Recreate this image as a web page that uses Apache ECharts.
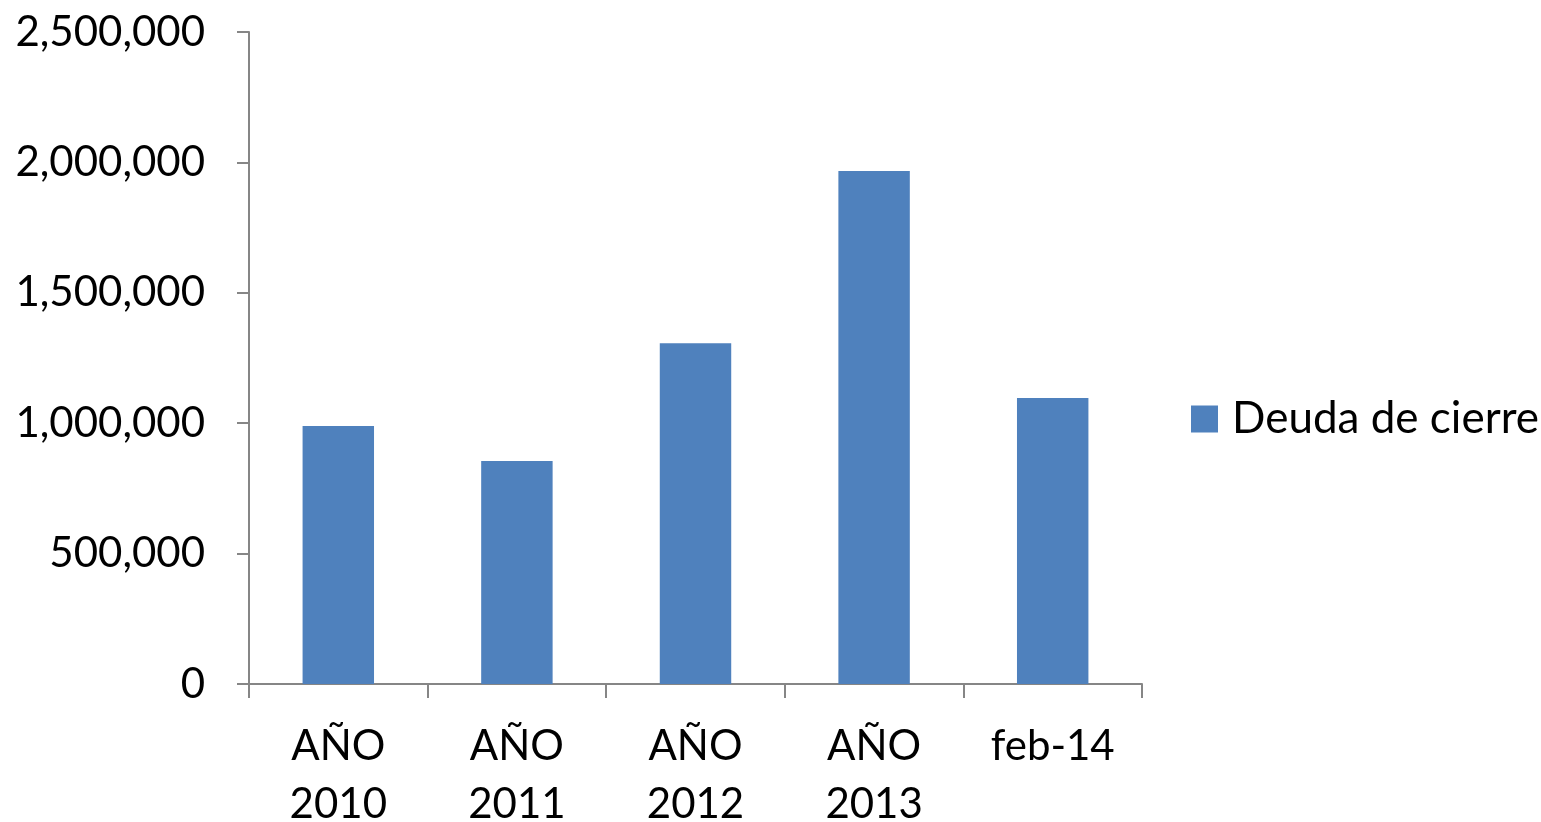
<!DOCTYPE html>
<html>
<head>
<meta charset="utf-8">
<script src="https://cdn.jsdelivr.net/npm/echarts@6/dist/echarts.min.js"></script>
<style>
html,body{margin:0;padding:0;background:#fff;}
#chart{width:1541px;height:822px;}
</style>
</head>
<body>
<div id="chart"></div>
<script>
const categories = ['AÑO\n2010', 'AÑO\n2011', 'AÑO\n2012', 'AÑO\n2013', 'feb-14'];
const seriesName = 'Deuda de cierre';
const deudaValues = [989000, 855000, 1307000, 1967000, 1097000];
const yTicks = { min: 0, max: 2500000, interval: 500000 };

const FONT = 'Lato';
const chart = echarts.init(document.getElementById('chart'), null, { renderer: 'canvas' });
chart.setOption({
  backgroundColor: '#ffffff',
  animation: false,
  grid: { left: 249, right: 399, top: 32, bottom: 138, containLabel: false, outerBoundsMode: 'none' },
  legend: {
    data: [seriesName],
    left: 1191,
    top: 397,
    padding: 0,
    icon: 'rect',
    itemWidth: 27,
    itemHeight: 27,
    textStyle: { fontFamily: FONT, fontSize: 44, color: '#000', padding: [0, 0, 0, 9] }
  },
  xAxis: {
    type: 'category',
    data: categories,
    axisLine: { lineStyle: { color: '#868686', width: 2 } },
    axisTick: { show: true, length: 14, alignWithLabel: false, lineStyle: { color: '#868686', width: 2 } },
    axisLabel: { fontFamily: FONT, fontSize: 42, color: '#000', margin: 33, lineHeight: 58, interval: 0 }
  },
  yAxis: {
    type: 'value',
    min: yTicks.min,
    max: yTicks.max,
    interval: yTicks.interval,
    axisLine: { show: true, lineStyle: { color: '#868686', width: 2 } },
    axisTick: { show: true, length: 12, lineStyle: { color: '#868686', width: 2 } },
    splitLine: { show: false },
    axisLabel: {
      fontFamily: FONT, fontSize: 42, color: '#000', margin: 44,
      formatter: v => v.toLocaleString('en-US')
    }
  },
  series: [{
    name: seriesName,
    type: 'bar',
    data: deudaValues,
    barWidth: '40%',
    itemStyle: { color: '#4F81BD' }
  }]
});
</script>
</body>
</html>
